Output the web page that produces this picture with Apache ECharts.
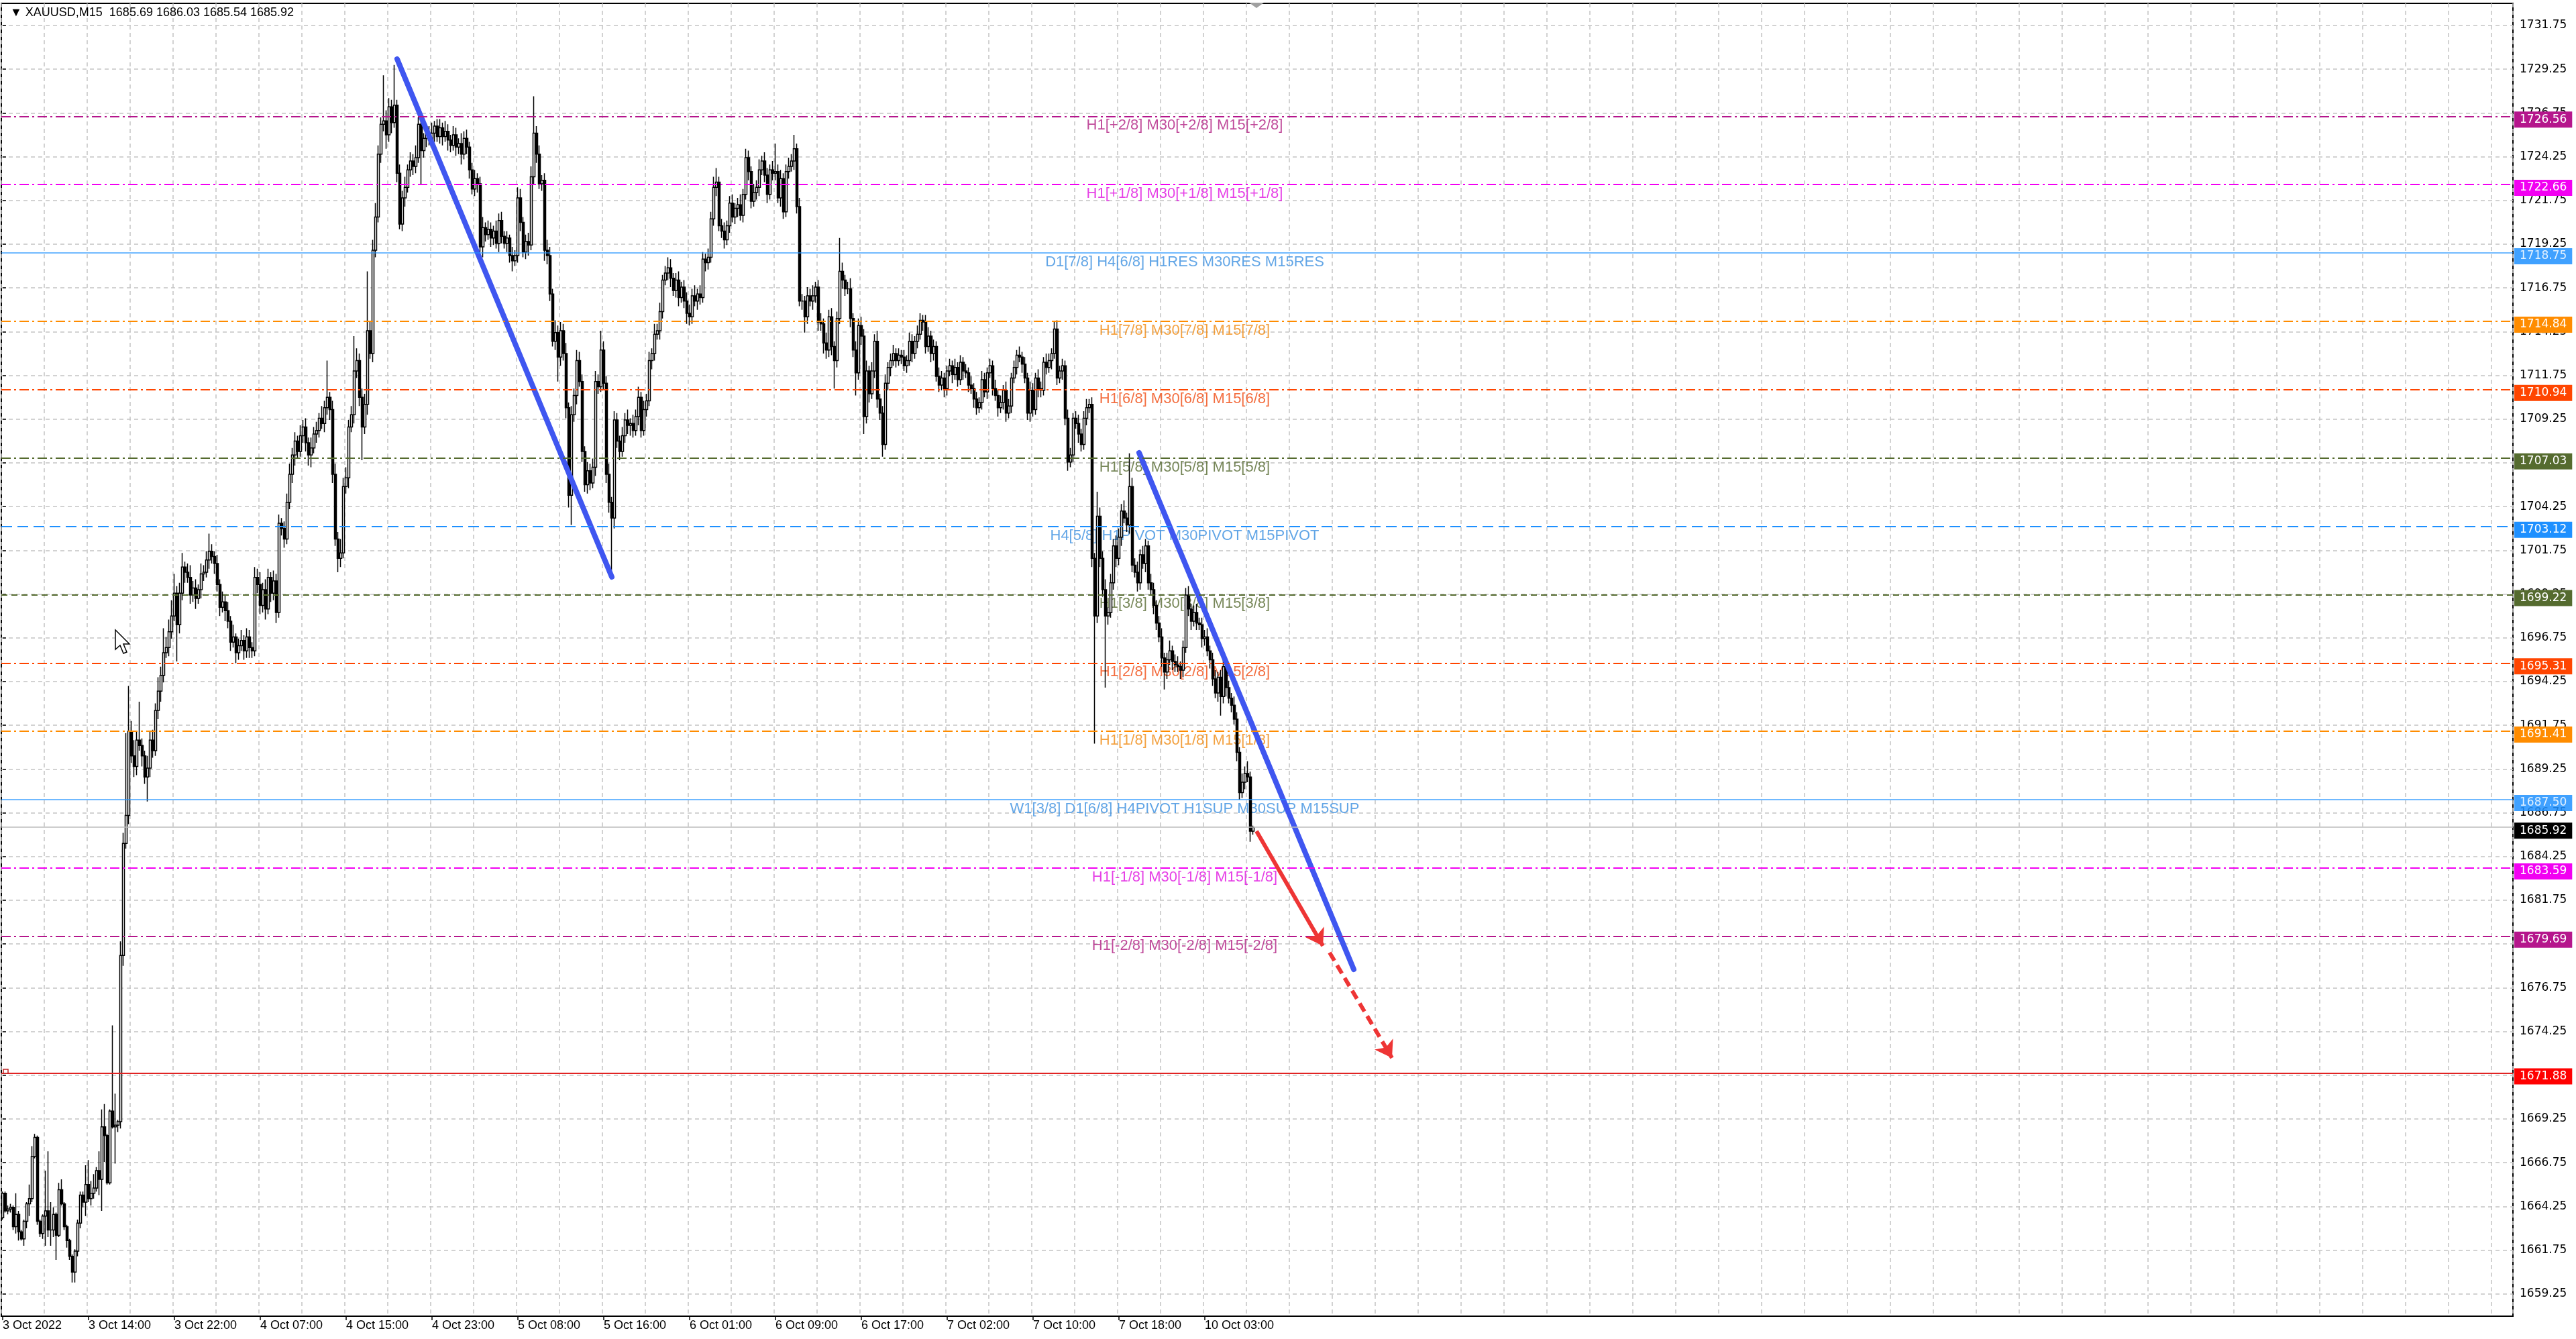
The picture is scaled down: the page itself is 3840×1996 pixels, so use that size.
<!DOCTYPE html>
<html>
<head>
<meta charset="utf-8">
<title>XAUUSD,M15</title>
<script src="https://cdn.jsdelivr.net/npm/echarts@6.0.0/dist/echarts.min.js"></script>
<style>
  html, body { margin: 0; padding: 0; background: #fff; }
  #chart { width: 3840px; height: 1996px; }
</style>
</head>
<body>
<div id="chart"></div>
<script>
// M15 closes, one row per 16 bars (one grid column)
const firstOpen = 1663.6;
const closes = [
  1665.0,1664.0,1664.1,1664.2,1663.1,1663.8,1662.8,1662.4,1663.4,1664.4,1664.7,1667.1,1668.2,1663.4,1662.7,1663.7,
  1664.0,1662.9,1662.9,1663.8,1662.6,1665.2,1664.4,1663.1,1662.3,1661.4,1660.5,1661.7,1663.3,1664.9,1664.5,1665.5,
  1664.7,1665.0,1665.3,1666.3,1665.8,1668.8,1668.3,1665.6,1669.7,1668.8,1668.9,1669.1,1678.6,1685.0,1686.6,1691.4,
  1690.0,1689.4,1690.9,1690.6,1690.0,1688.8,1689.3,1690.9,1690.3,1692.6,1693.7,1694.6,1695.9,1696.2,1697.1,1698.0,
  1699.3,1697.5,1699.3,1700.8,1700.5,1700.2,1699.2,1699.6,1699.0,1699.5,1700.4,1700.5,1701.2,1701.7,1701.4,1701.0,
  1699.8,1698.5,1698.8,1698.3,1697.7,1696.5,1696.8,1695.9,1696.3,1696.6,1696.0,1696.8,1696.2,1696.0,1700.2,1699.8,
  1698.6,1699.5,1698.4,1700.2,1699.3,1700.0,1698.2,1703.3,1703.0,1702.4,1704.5,1706.1,1707.2,1708.0,1707.4,1708.3,
  1708.8,1707.9,1707.2,1707.6,1708.4,1708.6,1709.3,1709.0,1709.9,1710.5,1709.8,1706.1,1702.4,1701.3,1701.6,1705.4,
  1705.9,1708.8,1709.5,1712.0,1712.6,1710.5,1708.8,1710.1,1714.3,1713.0,1718.9,1720.8,1724.4,1726.1,1726.3,1725.5,
  1727.1,1726.2,1727.2,1723.3,1720.4,1721.9,1722.5,1723.5,1724.0,1723.7,1724.2,1726.1,1724.6,1725.3,1725.6,1725.2,
  1725.6,1726.0,1725.4,1725.9,1725.4,1725.7,1725.2,1724.9,1725.5,1724.8,1725.0,1724.4,1725.3,1724.8,1723.5,1722.4,
  1723.0,1722.7,1719.1,1720.2,1719.8,1720.1,1719.6,1720.0,1719.3,1720.6,1719.7,1719.3,1719.6,1718.6,1718.3,1718.6,
  1721.9,1720.5,1718.8,1719.4,1719.2,1723.1,1725.6,1724.4,1722.7,1722.9,1718.9,1718.6,1716.4,1713.7,1714.2,1712.8,
  1714.3,1713.0,1709.9,1704.9,1709.5,1710.6,1712.6,1711.4,1707.4,1705.5,1706.3,1705.6,1706.5,1711.4,1711.1,1713.2,
  1711.3,1706.1,1704.5,1703.6,1709.2,1708.0,1707.4,1708.3,1709.2,1708.9,1709.0,1708.6,1709.4,1710.5,1708.6,1709.8,
  1710.3,1712.6,1713.0,1714.1,1714.3,1715.4,1717.2,1717.6,1717.9,1717.3,1716.6,1717.2,1716.2,1716.8,1716.0,1715.3,
  1715.1,1716.3,1716.0,1716.4,1716.2,1718.4,1718.2,1718.5,1720.7,1722.5,1722.8,1720.3,1720.0,1719.5,1720.3,1721.6,
  1720.8,1721.3,1721.5,1720.9,1722.1,1724.2,1723.4,1721.7,1722.2,1722.5,1723.5,1724.0,1723.2,1722.1,1723.5,1723.3,
  1723.4,1721.9,1723.0,1721.1,1723.4,1723.7,1724.0,1724.7,1721.4,1716.0,1716.0,1715.1,1716.3,1716.0,1716.3,1716.8,
  1714.8,1714.7,1713.6,1713.2,1715.1,1713.4,1712.6,1715.0,1717.7,1717.2,1716.7,1716.7,1715.0,1713.2,1711.9,1714.6,
  1714.0,1709.4,1712.0,1710.7,1712.0,1713.7,1710.4,1709.6,1707.8,1711.3,1712.2,1712.6,1713.0,1712.6,1712.9,1712.8,
  1712.3,1712.6,1713.7,1713.0,1713.7,1714.1,1714.9,1714.8,1713.4,1714.0,1713.0,1713.4,1711.7,1711.2,1711.6,1711.0,
  1712.0,1712.3,1711.8,1712.2,1711.5,1712.5,1712.0,1711.9,1711.2,1711.0,1710.4,1709.9,1710.2,1711.5,1710.8,1711.9,
  1712.3,1711.0,1710.6,1709.9,1710.2,1710.9,1709.6,1710.0,1711.6,1712.2,1712.9,1712.8,1712.4,1711.6,1709.6,1710.9,
  1709.8,1711.6,1711.0,1710.9,1712.5,1712.2,1712.6,1713.0,1714.4,1711.6,1712.0,1712.3,1709.3,1706.8,1707.2,1709.3,
  1709.0,1708.4,1707.8,1709.3,1709.9,1710.1,1701.3,1698.0,1703.7,1701.3,1699.5,1698.0,1698.2,1699.9,1702.0,1701.3,
  1702.5,1704.0,1703.6,1703.2,1705.4,1700.9,1700.5,1699.9,1701.5,1701.0,1702.0,1699.9,1699.5,1698.6,1697.6,1696.8,
  1695.6,1694.8,1695.5,1696.0,1695.4,1695.2,1695.1,1694.9,1696.2,1699.2,1698.4,1697.7,1698.2,1697.6,1697.5,1696.7,
  1696.8,1696.0,1695.5,1694.4,1693.6,1694.5,1693.4,1695.1,1693.9,1693.3,1692.9,1692.1,1690.2,1687.9,1688.5,1689.0,
  1688.8,1685.7,1685.92
];
// wick lengths above / below the body, in tenths of a dollar
const wickUp = [
  1,1,2,2,1,12,2,1,1,1,8,6,2,1,1,1,
  23,34,16,4,1,4,6,1,1,1,1,1,2,2,2,11,
  14,7,8,2,11,10,13,1,1,49,18,1,8,6,47,26,
  6,9,5,22,4,3,7,5,6,4,8,5,14,6,7,9,
  11,4,6,8,3,5,7,4,5,3,6,4,5,10,4,3,
  5,3,6,4,5,3,7,2,4,6,3,5,4,3,6,5,
  7,4,6,5,3,6,4,5,3,4,5,6,4,5,3,6,
  4,5,3,6,4,5,3,7,4,21,3,5,6,4,8,5,
  6,4,5,20,7,4,5,6,34,5,6,8,5,4,26,6,
  5,4,23,3,5,4,6,3,5,4,7,4,6,3,5,4,
  6,3,4,5,3,6,4,3,5,4,3,6,4,5,3,4,
  5,3,4,6,3,5,4,3,6,4,5,3,4,2,5,3,
  6,5,3,4,5,6,21,4,5,3,4,6,5,3,7,4,
  5,4,6,3,5,4,6,5,4,3,5,4,5,6,4,11,
  5,4,6,3,5,4,3,5,4,6,3,5,4,6,3,5,
  4,5,3,6,4,5,3,4,6,5,3,4,5,3,4,5,
  5,4,6,3,5,4,3,5,4,6,8,3,4,5,3,4,
  5,3,4,6,3,5,4,3,5,4,6,3,5,4,3,5,
  16,4,5,3,4,5,4,8,3,5,4,3,5,4,6,3,
  4,5,3,6,4,5,3,4,19,5,3,4,6,3,5,4,
  5,4,6,3,5,4,6,3,4,5,3,4,5,3,4,3,
  4,3,5,4,3,5,4,3,4,5,3,4,3,5,4,3,
  3,4,3,5,3,4,3,4,3,5,3,4,3,5,4,3,
  4,3,5,3,4,3,5,4,3,4,3,5,3,4,3,5,
  4,3,5,4,3,5,4,3,4,5,3,4,3,5,4,3,
  4,5,3,4,5,3,4,3,14,5,4,6,3,5,4,6,
  5,4,6,3,19,5,4,6,3,5,4,3,5,4,3,4,
  5,3,4,6,3,4,5,3,4,4,5,3,4,5,3,4,
  4,5,3,4,5,3,4,5,3,4,3,5,4,3,5,4,
  7,3,1
];
const wickDn = [
  1,1,2,2,2,4,5,1,4,4,7,2,1,2,2,3,
  17,4,9,4,14,1,1,2,4,2,6,6,3,3,3,8,
  2,4,3,2,9,18,15,1,1,1,21,4,4,6,3,5,
  4,6,5,3,6,4,14,5,4,3,5,6,4,3,5,4,
  3,21,5,4,6,3,5,4,6,3,5,4,3,5,4,6,
  4,5,3,6,4,5,3,6,4,3,5,4,6,4,3,5,
  5,4,6,3,5,4,6,3,4,5,3,4,5,6,4,3,
  4,5,6,7,3,5,4,3,5,4,6,5,4,8,5,3,
  4,6,3,5,4,5,19,4,6,3,5,4,3,5,4,8,
  4,6,3,5,3,4,5,3,4,5,4,3,19,4,5,3,
  4,5,3,4,5,3,6,4,3,5,4,6,3,4,5,3,
  4,5,3,6,4,3,5,4,3,5,4,3,5,4,6,3,
  4,5,3,4,6,3,4,5,3,4,6,5,4,3,5,14,
  5,4,6,7,17,4,5,3,6,4,5,4,3,5,4,3,
  4,5,6,30,6,4,5,3,4,5,6,4,3,5,4,3,
  4,3,5,4,3,5,4,3,4,5,3,4,5,3,4,6,
  5,4,3,5,4,3,5,4,3,4,5,3,4,5,3,4,
  3,4,5,3,4,3,5,4,3,4,5,3,4,5,3,4,
  4,3,5,4,3,4,3,5,4,3,5,9,4,3,5,4,
  5,4,6,5,4,5,16,4,3,5,4,3,5,4,13,4,
  5,10,4,5,3,4,5,4,7,3,4,5,3,4,3,4,
  3,4,3,5,3,4,3,5,4,3,5,4,3,4,3,5,
  4,3,5,3,4,3,5,3,4,3,5,4,3,4,3,4,
  3,4,3,5,3,4,5,3,4,3,4,3,5,3,4,5,
  4,3,5,4,3,4,3,5,3,4,3,5,4,5,3,4,
  3,5,4,3,4,3,5,73,4,5,4,41,5,3,4,5,
  4,5,3,4,5,4,3,5,4,3,5,4,3,5,4,3,
  5,10,4,3,5,4,3,5,4,3,4,5,3,4,3,5,
  4,3,5,4,3,5,11,4,5,3,4,3,5,4,3,4,
  3,6,2
];

const xLabels = ['3 Oct 2022', '3 Oct 14:00', '3 Oct 22:00', '4 Oct 07:00', '4 Oct 15:00',
  '4 Oct 23:00', '5 Oct 08:00', '5 Oct 16:00', '6 Oct 01:00', '6 Oct 09:00', '6 Oct 17:00',
  '7 Oct 02:00', '7 Oct 10:00', '7 Oct 18:00', '10 Oct 03:00'];

// murrey / pivot levels
const levelPrices = [1726.56, 1722.66, 1718.75, 1714.84, 1710.94, 1707.03, 1703.12,
  1699.22, 1695.31, 1691.41, 1687.50, 1683.59, 1679.69];
const levelNames = [
  'H1[+2/8] M30[+2/8] M15[+2/8]',
  'H1[+1/8] M30[+1/8] M15[+1/8]',
  'D1[7/8] H4[6/8] H1RES M30RES M15RES',
  'H1[7/8] M30[7/8] M15[7/8]',
  'H1[6/8] M30[6/8] M15[6/8]',
  'H1[5/8] M30[5/8] M15[5/8]',
  'H4[5/8] H1PIVOT M30PIVOT M15PIVOT',
  'H1[3/8] M30[3/8] M15[3/8]',
  'H1[2/8] M30[2/8] M15[2/8]',
  'H1[1/8] M30[1/8] M15[1/8]',
  'W1[3/8] D1[6/8] H4PIVOT H1SUP M30SUP M15SUP',
  'H1[-1/8] M30[-1/8] M15[-1/8]',
  'H1[-2/8] M30[-2/8] M15[-2/8]'
];
const levelColors = ['#B5168C', '#F200F2', '#1E90FF', '#FF8C00', '#FF4500', '#556B2F', '#1E90FF',
  '#556B2F', '#FF4500', '#FF8C00', '#1E90FF', '#F200F2', '#B5168C'];
const levelTextColors = ['#B01E82', '#E010E0', '#3A8EE0', '#F08A10', '#F04A10', '#55692F', '#3A8EE0',
  '#55692F', '#F04A10', '#F08A10', '#3A8EE0', '#E010E0', '#B01E82'];
const levelStyles = ['dashdot', 'dashdot', 'solid', 'dashdot', 'dashdot', 'dashdot', 'longdash',
  'dash', 'dashdot', 'dashdot', 'solid', 'dashdot', 'dashdot'];
const bidPrice = 1685.92;
const targetPrice = 1671.88;

// drawn objects, [bar, price]
const trendA = [[147, 1729.83], [227, 1700.23]];
const trendB = [[423.5, 1707.33], [503.5, 1677.80]];
const arrowSolid = [[467.25, 1685.70], [492, 1679.14]];
const arrowDashed = [[494.5, 1678.76], [517.75, 1672.74]];
const labelBar = 440.5;

const totalSlots = 936;

const dashMap = {
  solid: 'solid',
  dashdot: [14, 5, 3, 5],
  longdash: [16, 8],
  dash: [9, 6]
};

let candles = closes.map((c, i) => {
  let o = i === 0 ? firstOpen : closes[i - 1];
  let h = +(Math.max(o, c) + wickUp[i] / 10).toFixed(2);
  let l = +(Math.min(o, c) - wickDn[i] / 10).toFixed(2);
  return [o, c, l, h];
});
let cats = [];
for (let i = 0; i < totalSlots; i++) cats.push(String(i));

let isLabelSlot = (i) => i % 32 === 0 && i / 32 < xLabels.length;

let levelLines = levelPrices.map((p, i) => ({
  yAxis: p,
  lineStyle: {
    color: levelColors[i],
    type: dashMap[levelStyles[i]],
    width: levelStyles[i] === 'solid' ? 1.5 : 2,
    opacity: levelStyles[i] === 'solid' ? 0.85 : 1
  },
  label: { backgroundColor: levelColors[i], formatter: p.toFixed(2) }
}));
levelLines.push({
  yAxis: bidPrice,
  lineStyle: { color: '#BDBDBD', type: 'solid', width: 1.5 },
  label: { backgroundColor: '#000', formatter: bidPrice.toFixed(2) }
});
levelLines.push({
  yAxis: targetPrice,
  lineStyle: { color: '#E02424', type: 'solid', width: 2 },
  label: { backgroundColor: '#FF0000', formatter: targetPrice.toFixed(2) }
});

let levelTexts = levelPrices.map((p, i) => ({
  value: [labelBar, p],
  label: { formatter: levelNames[i], color: levelTextColors[i] }
}));

let chart = echarts.init(document.getElementById('chart'));
let gridLine = { color: '#C4C4C4', type: [6, 5], width: 1.5 };

let option = {
  animation: false,
  backgroundColor: '#fff',
  title: {
    text: '\u25BC XAUUSD,M15  1685.69 1686.03 1685.54 1685.92',
    left: 10,
    top: 5,
    textStyle: { fontSize: 18, fontWeight: 'normal', fontFamily: 'Liberation Sans', color: '#000' }
  },
  grid: [
    { left: 2, right: 94, top: 5, bottom: 34, show: true, borderColor: '#000', borderWidth: 2 },
    { left: 2, right: 94, top: 38, bottom: 67.2 }
  ],
  xAxis: [
    {
      type: 'category',
      gridIndex: 0,
      data: cats,
      boundaryGap: true,
      axisLine: { show: true, lineStyle: { color: '#000', width: 2 } },
      axisTick: { show: true, interval: (i) => isLabelSlot(i), alignWithLabel: true, length: 6, lineStyle: { color: '#000', width: 1.5 } },
      axisLabel: {
        interval: (i) => isLabelSlot(i),
        formatter: (v, i) => xLabels[i / 32] || '',
        align: 'left',
        margin: 5,
        fontSize: 18,
        fontFamily: 'Liberation Sans',
        color: '#000'
      },
      splitLine: { show: true, interval: (i) => i % 16 === 0, lineStyle: gridLine }
    },
    { type: 'value', gridIndex: 0, min: -0.5, max: totalSlots - 0.5, show: false },
    { type: 'value', gridIndex: 1, min: -0.5, max: totalSlots - 0.5, show: false }
  ],
  yAxis: [
    { type: 'value', gridIndex: 0, min: 1657.977, max: 1733.015, show: false, splitLine: { show: false } },
    {
      type: 'value',
      gridIndex: 1,
      position: 'right',
      min: 1659.25,
      max: 1731.75,
      interval: 2.5,
      axisLine: { show: false },
      axisTick: { show: true, length: 5, lineStyle: { color: '#000', width: 1.5 } },
      axisLabel: {
        margin: 10,
        fontSize: 17,
        fontFamily: 'DejaVu Sans',
        color: '#000',
        formatter: (v) => v.toFixed(2)
      },
      splitLine: { show: true, lineStyle: gridLine }
    }
  ],
  series: [
    {
      name: 'levels',
      type: 'scatter',
      xAxisIndex: 1,
      yAxisIndex: 0,
      z: 1,
      silent: true,
      clip: false,
      symbolSize: 0,
      data: levelTexts,
      label: {
        show: true,
        position: 'bottom',
        distance: 3,
        fontSize: 22,
        fontFamily: 'Liberation Sans'
      },
      markLine: {
        silent: true,
        symbol: 'none',
        label: {
          show: true,
          position: 'end',
          distance: 2,
          offset: [0, 5],
          color: '#fff',
          fontSize: 17,
          fontFamily: 'DejaVu Sans',
          padding: [4, 8, 3, 8]
        },
        data: levelLines
      }
    },
    {
      name: 'XAUUSD',
      type: 'candlestick',
      xAxisIndex: 0,
      yAxisIndex: 0,
      z: 3,
      barWidth: 3,
      data: candles,
      itemStyle: {
        color: '#FFFFFF',
        color0: '#000000',
        borderColor: '#000000',
        borderColor0: '#000000',
        borderWidth: 1.5
      }
    },
    {
      name: 'trendA',
      type: 'line',
      xAxisIndex: 1,
      yAxisIndex: 0,
      z: 4,
      showSymbol: false,
      silent: true,
      data: trendA,
      lineStyle: { color: '#3F56F0', width: 8, cap: 'round' }
    },
    {
      name: 'trendB',
      type: 'line',
      xAxisIndex: 1,
      yAxisIndex: 0,
      z: 4,
      showSymbol: false,
      silent: true,
      data: trendB,
      lineStyle: { color: '#3F56F0', width: 8, cap: 'round' },
      markLine: {
        silent: true,
        symbol: ['none', 'arrow'],
        symbolSize: 24,
        label: { show: false },
        data: [
          [
            { coord: arrowSolid[0], lineStyle: { color: '#EE3535', width: 6, type: 'solid' } },
            { coord: arrowSolid[1], lineStyle: { color: '#EE3535', width: 6, type: 'solid' } }
          ],
          [
            { coord: arrowDashed[0], lineStyle: { color: '#EE3535', width: 6, type: [14, 8] } },
            { coord: arrowDashed[1], lineStyle: { color: '#EE3535', width: 6, type: [14, 8] } }
          ]
        ]
      }
    }
  ],
  graphic: [
    // mouse pointer left on the chart
    {
      type: 'polygon',
      z: 100,
      shape: { points: [[172, 939], [172, 968], [179, 962], [184, 974], [189, 972], [184, 960], [193, 960]] },
      style: { fill: '#fff', stroke: '#000', lineWidth: 1.5 }
    },
    // chart shift marker
    {
      type: 'polygon',
      z: 100,
      shape: { points: [[1862, 4], [1884, 4], [1873, 12]] },
      style: { fill: '#A0A0A0' }
    },
    // anchor of the target line
    {
      type: 'rect',
      z: 100,
      shape: { x: 5, y: 1594, width: 7, height: 6 },
      style: { fill: '#fff', stroke: '#C02020', lineWidth: 1.5 }
    }
  ]
};
chart.setOption(option);
</script>
</body>
</html>
